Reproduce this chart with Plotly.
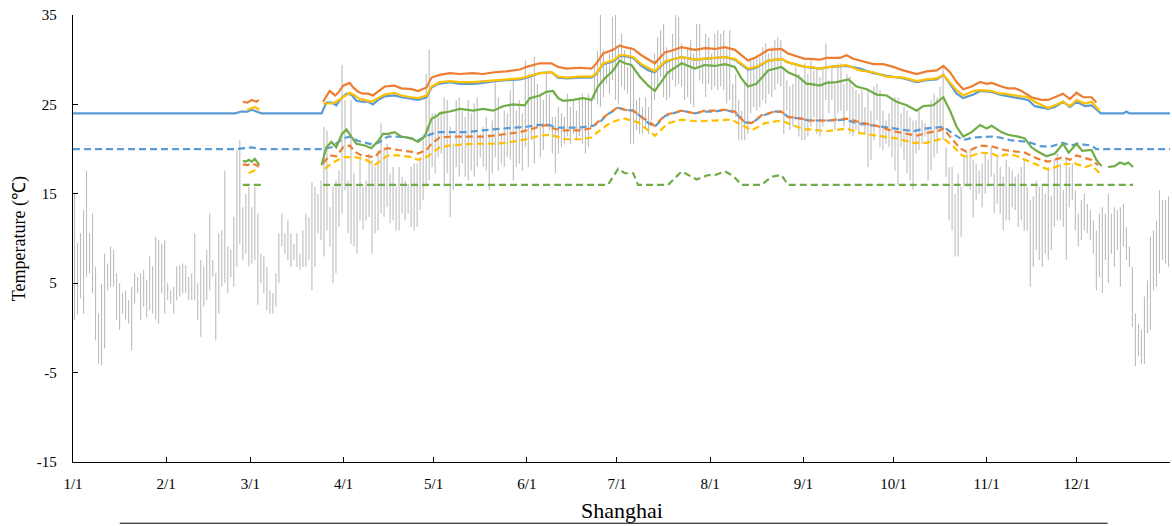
import plotly.graph_objects as go

# ---------------------------------------------------------------------------
# Axis labelling (day-of-year axis, non-leap year)
# ---------------------------------------------------------------------------
MONTH_START_DAYS = [0, 31, 59, 90, 120, 151, 181, 212, 243, 273, 304, 334]
MONTH_LABELS = ["1/1", "2/1", "3/1", "4/1", "5/1", "6/1",
                "7/1", "8/1", "9/1", "10/1", "11/1", "12/1"]
YEAR_END_DAY = 365
Y_TICKS = [-15, -5, 5, 15, 25, 35]

# ---------------------------------------------------------------------------
# Daily outdoor temperature range, Shanghai (deg C), day 0 = 1 Jan
# ---------------------------------------------------------------------------
T_MAX = [
    # Jan 1 - Mar 2
    15.0, 9.5, 10.6, 13.2, 17.6, 10.6, 12.8, 6.8, 1.6, 4.9,
    8.3, 7.2, 9.1, 8.7, 6.1, 5.0, 3.9, 4.2, 3.1, 4.6,
    6.1, 5.7, 6.1, 6.5, 5.4, 8.0, 6.9, 10.2, 9.8, 9.4,
    9.8, 5.0, 4.2, 4.6, 6.9, 7.0, 7.2, 7.0, 5.7, 6.1,
    10.6, 5.0, 7.6, 6.9, 8.7, 12.8, 7.6, 6.1, 10.6, 10.9,
    17.6, 9.1, 8.7, 12.4, 19.9, 21.0, 13.5, 15.0, 15.8, 13.5,
    15.8,
    # days 61 - 122
    12.8, 8.3, 8.0, 6.8, 4.2, 3.9, 6.1, 10.6, 12.8, 10.6,
    12.0, 10.6, 9.4, 10.6, 8.3, 10.9, 12.8, 12.4, 16.3, 15.8,
    15.0, 16.5, 22.5, 22.1, 13.5, 15.8, 16.5, 17.6, 29.4, 25.5,
    16.5, 25.5, 17.3, 15.8, 19.1, 15.8, 16.5, 19.5, 18.8, 18.0,
    19.9, 22.9, 20.2, 20.6, 17.3, 18.0, 15.8, 18.0, 16.9, 16.5,
    16.1, 18.0, 18.4, 18.4, 19.1, 21.7, 28.4, 31.1, 24.0, 24.0,
    23.6, 24.3,
    # days 123 - 184
    25.8, 25.5, 22.5, 20.6, 25.5, 25.8, 24.3, 23.6, 25.5, 24.0,
    25.1, 25.8, 21.7, 22.5, 23.6, 21.7, 23.2, 27.7, 25.8, 21.7,
    24.3, 24.0, 26.6, 27.7, 24.3, 25.5, 24.0, 29.9, 28.4, 28.1,
    30.3, 27.3, 26.2, 25.5, 28.4, 26.2, 23.6, 23.6, 24.7, 24.0,
    23.6, 26.2, 24.7, 25.5, 24.3, 25.8, 26.2, 25.5, 26.2, 25.5,
    29.2, 31.0, 35.0, 31.1, 29.6, 30.7, 34.8, 35.0, 31.4, 32.9,
    31.1, 29.2,
    # days 185 - 245
    31.4, 29.2, 25.5, 25.8, 24.7, 25.8, 24.7, 28.8, 30.7, 32.5,
    33.3, 34.0, 31.4, 29.9, 32.9, 35.0, 34.8, 31.8, 30.3, 31.4,
    32.2, 30.7, 34.0, 34.0, 30.3, 32.9, 32.5, 30.7, 32.9, 33.3,
    32.9, 33.3, 31.1, 33.3, 27.3, 28.4, 25.5, 24.3, 27.3, 29.2,
    29.9, 30.3, 30.3, 30.3, 31.4, 31.8, 30.7, 31.4, 32.2, 32.5,
    32.2, 29.2, 27.7, 27.0, 27.3, 29.2, 28.4, 28.1, 29.6, 28.4,
    29.9,
    # days 246 - 307
    28.8, 29.2, 28.1, 29.2, 31.8, 27.7, 29.2, 27.3, 29.6, 29.6,
    27.3, 28.4, 28.1, 27.0, 26.6, 26.2, 26.6, 24.7, 26.6, 24.3,
    27.0, 27.3, 26.6, 24.3, 23.2, 24.0, 25.5, 25.8, 25.8, 24.0,
    24.7, 24.3, 23.6, 23.2, 23.2, 24.3, 23.2, 22.9, 22.5, 25.5,
    26.2, 25.8, 27.0, 29.4, 20.2, 18.0, 18.0, 15.0, 17.3, 15.8,
    19.1, 19.5, 19.9, 18.8, 18.4, 17.6, 18.4, 19.5, 18.8, 20.2,
    17.3, 19.1,
    # days 308 - 364
    18.0, 16.9, 18.8, 18.0, 17.6, 16.9, 17.3, 18.0, 18.8, 15.8,
    14.3, 14.7, 16.5, 15.8, 15.8, 15.0, 18.0, 14.7, 18.8, 19.5,
    18.4, 15.4, 18.8, 18.0, 18.4, 15.4, 12.8, 14.3, 15.0, 13.9,
    13.2, 12.0, 10.9, 12.8, 13.5, 12.8, 15.0, 12.8, 13.5, 13.2,
    13.5, 13.9, 11.3, 9.1, 6.8, 1.6, 0.5, -0.2, 3.5, 5.3,
    10.2, 10.9, 12.0, 15.4, 14.3, 14.3, 14.7,
]

T_MIN = [
    # Jan 1 - Mar 2
    0.9, 1.5, 3.3, 1.6, 5.7, 6.1, 3.9, -1.4, -4.0, -4.2,
    -2.3, 4.2, 4.6, 4.6, 0.9, -0.2, 1.6, 0.9, 0.5, -2.5,
    2.7, 3.9, 0.9, 2.4, 1.2, 2.0, 1.6, 0.9, 0.5, 3.9,
    1.6, 3.1, 2.7, 1.6, 3.1, 3.5, 3.9, 3.9, 3.1, 3.1,
    3.1, 0.9, -1.0, 2.4, 3.1, 4.2, 5.7, -1.4, 1.6, 4.6,
    5.0, 3.9, 5.7, 4.6, 6.8, 9.4, 7.6, 8.3, 6.9, 7.2,
    7.6,
    # days 61 - 122
    2.6, 5.0, 3.9, 2.0, 1.6, 1.6, 2.4, 5.0, 9.1, 8.3,
    7.6, 6.8, 7.6, 6.8, 6.5, 6.8, 6.8, 7.6, 4.2, 6.8,
    10.6, 9.8, 8.0, 10.9, 9.1, 5.0, 6.1, 11.3, 12.8, 15.4,
    10.6, 9.4, 9.1, 8.3, 12.0, 11.0, 12.0, 12.4, 8.3, 10.6,
    10.9, 12.8, 12.4, 13.5, 11.7, 12.0, 10.9, 10.9, 12.8, 12.0,
    12.8, 11.3, 10.9, 11.3, 13.2, 14.3, 15.8, 16.5, 18.0, 17.3,
    19.1, 19.5,
    # days 123 - 184
    15.8, 17.3, 12.4, 15.4, 18.0, 16.9, 18.4, 16.9, 16.5, 17.6,
    16.9, 18.0, 19.1, 18.0, 17.6, 15.4, 17.3, 19.1, 17.6, 18.4,
    18.0, 19.1, 18.8, 16.5, 18.0, 18.4, 17.6, 20.2, 18.0, 21.0,
    18.4, 22.5, 19.1, 19.9, 22.5, 22.1, 19.5, 17.3, 19.5, 20.2,
    20.6, 21.4, 20.6, 21.7, 21.0, 21.4, 20.6, 19.5, 20.2, 22.5,
    25.5, 25.0, 24.7, 25.8, 27.3, 26.2, 27.7, 25.5, 25.1, 27.0,
    26.6, 26.2,
    # days 185 - 245
    20.6, 20.6, 22.1, 21.7, 21.7, 22.5, 21.7, 23.2, 25.5, 27.0,
    28.1, 25.8, 25.5, 25.8, 27.7, 27.0, 27.3, 27.0, 25.5, 25.8,
    25.1, 24.7, 29.2, 27.7, 27.3, 25.8, 27.3, 26.6, 27.0, 26.6,
    27.0, 26.6, 25.1, 25.5, 24.0, 23.6, 21.0, 21.0, 21.0, 21.7,
    24.0, 24.7, 24.3, 24.7, 25.5, 25.1, 26.2, 25.8, 26.6, 27.3,
    27.0, 21.7, 24.3, 22.1, 22.5, 23.2, 21.4, 21.0, 21.0, 21.4,
    22.5,
    # days 246 - 307
    23.6, 21.7, 21.4, 22.5, 25.5, 24.0, 25.5, 22.1, 24.0, 24.3,
    22.5, 24.3, 21.7, 21.4, 22.1, 21.7, 22.5, 21.7, 18.0, 18.8,
    21.0, 23.2, 20.2, 19.9, 20.6, 20.2, 19.1, 17.6, 16.1, 20.2,
    18.8, 17.3, 16.5, 15.4, 19.5, 19.9, 20.6, 21.4, 16.5, 17.6,
    19.1, 19.5, 22.1, 21.0, 16.9, 12.0, 10.9, 8.0, 8.0, 10.2,
    15.8, 15.8, 15.4, 12.4, 14.3, 15.0, 13.5, 15.0, 15.8, 16.9,
    12.8, 13.9,
    # days 308 - 364
    12.8, 10.9, 12.0, 12.0, 13.5, 13.2, 11.3, 12.0, 10.9, 10.9,
    4.6, 6.8, 8.7, 7.6, 6.8, 8.3, 7.6, 8.7, 11.3, 12.0,
    12.0, 11.3, 7.6, 13.5, 14.3, 10.9, 9.1, 9.8, 10.9, 10.6,
    9.8, 8.3, 4.2, 5.7, 3.9, 7.6, 5.0, 8.3, 6.8, 8.7,
    4.6, 9.1, 7.6, 6.8, 0.1, -4.3, -3.2, -4.0, -4.0, -0.6,
    -0.2, 4.2, 4.6, 6.1, 7.6, 7.2, 6.8,
]

# ---------------------------------------------------------------------------
# Comfort-temperature curves (day-of-year, deg C); None breaks a curve
# ---------------------------------------------------------------------------
UPPER_ORANGE_DAY = [
    56.5, 58.0, 59.5, 61.0, 61.8, None,
    83.2, 85.4, 87.2, 88.2, 89.9, 92.1, 93.2, 94.9, 96.5, 98.2, 99.8, 102.1,
    103.7, 107.0, 109.3, 112.6, 114.8, 117.6, 119.3, 122.0, 125.4, 128.7,
    133.1, 136.4, 140.3, 144.2, 148.7, 150.9, 155.3, 159.2, 161.4, 164.2,
    168.6, 172.5, 174.2, 176.4, 179.7, 181.9, 183.6, 186.4, 189.1, 193.6,
    196.9, 199.1, 202.5, 206.9, 210.2, 213.6, 216.9, 220.2, 224.6, 227.4,
    231.3, 235.7, 237.9, 243.5, 245.2, 248.5, 250.7, 255.2, 257.4, 259.6,
    262.9, 266.3, 269.6, 272.9, 276.3, 280.7, 284.0, 287.4, 289.6, 291.8,
    294.0, 296.2, 299.0, 301.8, 304.0, 305.7, 308.9, 311.1, 313.4, 315.6,
    318.9, 322.2, 324.5, 326.7, 329.4, 331.7, 333.9, 336.1, 338.9, 340.5,
]
UPPER_ORANGE_VAL = [
    25.3, 25.2, 25.5, 25.3, 25.5, None,
    25.3, 26.5, 26.0, 26.3, 27.1, 27.4, 26.9, 26.4, 26.2, 26.2, 26.0, 26.6,
    27.0, 27.1, 26.8, 26.7, 26.5, 26.9, 28.0, 28.3, 28.5, 28.4,
    28.5, 28.4, 28.6, 28.7, 28.9, 29.2, 29.6, 29.6, 29.2, 29.0,
    29.1, 29.0, 29.6, 30.7, 31.1, 31.6, 31.4, 31.2, 30.5, 29.6,
    30.8, 31.0, 31.4, 31.1, 31.3, 31.2, 31.4, 31.1, 29.9, 30.3,
    31.1, 31.2, 30.7, 30.1, 30.1, 30.0, 30.2, 30.2, 30.5, 30.1,
    29.8, 29.5, 29.5, 29.2, 28.8, 28.4, 28.7, 28.8, 29.3, 28.6,
    27.5, 26.7, 27.0, 27.5, 27.3, 27.4, 27.0, 26.8, 26.8, 26.5,
    25.8, 25.5, 25.5, 25.8, 26.2, 25.6, 26.3, 25.8, 25.8, 25.2,
]

UPPER_YELLOW_DAY = [
    58.0, 59.5, 60.5, 62.0, None,
    83.2, 86.0, 87.6, 89.9, 92.1, 93.8, 95.4, 97.1, 99.3, 101.5, 103.7,
    107.0, 109.3, 112.6, 114.8, 117.6, 119.3, 121.5, 122.0, 125.4, 128.7,
    133.1, 136.4, 140.3, 144.2, 148.7, 150.9, 155.3, 159.2, 161.4, 164.2,
    168.6, 172.5, 174.2, 176.4, 179.7, 181.9, 183.6, 186.4, 189.1, 193.6,
    196.9, 199.1, 202.5, 206.9, 210.2, 213.6, 216.9, 220.2, 224.6, 227.4,
    231.3, 235.7, 237.9, 243.5, 245.2, 248.5, 251.9, 257.4, 261.8, 266.3,
    270.7, 276.3, 280.7, 284.0, 287.4, 289.6, 291.8, 294.0, 296.2, 299.6,
    301.8, 305.7, 308.4, 310.0, 313.4, 317.8, 320.0, 324.5, 326.7, 329.4,
    331.7, 333.9, 336.7, 338.9, 341.6,
]
UPPER_YELLOW_VAL = [
    24.4, 24.6, 24.7, 24.4, None,
    25.1, 25.1, 25.3, 25.8, 26.3, 26.0, 25.6, 25.5, 25.3, 25.7, 26.1,
    26.3, 26.0, 25.8, 25.7, 26.0, 27.0, 27.4, 27.5, 27.6, 27.5,
    27.5, 27.6, 27.7, 27.8, 27.9, 28.1, 28.5, 28.6, 28.1, 28.0,
    28.1, 28.1, 28.5, 29.6, 29.9, 30.5, 30.5, 30.3, 29.5, 28.7,
    29.8, 30.0, 30.3, 30.0, 30.1, 30.2, 30.3, 30.1, 29.0, 29.2,
    29.9, 30.1, 29.7, 29.2, 29.2, 29.0, 29.2, 29.4, 28.8, 28.6,
    28.1, 28.0, 27.6, 27.8, 27.9, 28.3, 27.5, 26.6, 26.0, 26.5,
    26.6, 26.5, 26.2, 26.2, 26.0, 25.8, 25.3, 24.6, 24.9, 25.3,
    24.8, 25.5, 25.1, 25.3, 24.3,
]

UPPER_BLUE_DAY = [
    0.0, 54.0, 56.0, 58.0, 59.5, 60.5, 62.7, 82.7, 84.3, 86.0, 87.6, 89.3,
    91.0, 92.6, 94.3, 96.0, 98.2, 99.8, 101.5, 103.7, 107.0, 109.3, 112.6,
    114.8, 117.6, 119.3, 121.5, 125.4, 128.7, 133.1, 136.4, 140.3, 144.2,
    148.7, 150.9, 155.3, 159.2, 161.4, 164.2, 168.6, 172.5, 174.2, 176.4,
    179.7, 181.9, 183.6, 186.4, 189.1, 191.5, 193.6, 196.9, 199.1, 202.5,
    206.9, 210.2, 213.6, 216.9, 220.2, 224.6, 227.4, 231.3, 235.7, 237.9,
    243.5, 248.5, 251.9, 257.4, 261.8, 266.3, 270.7, 276.3, 280.7, 284.0,
    287.4, 289.6, 291.8, 294.0, 296.2, 299.6, 301.8, 305.7, 308.4, 310.0,
    313.4, 317.8, 320.0, 324.5, 326.7, 329.4, 331.7, 333.9, 336.7, 338.9,
    342.0, 349.5, 350.5, 351.5, 365.0,
]
UPPER_BLUE_VAL = [
    24.0, 24.0, 24.2, 24.2, 24.4, 24.3, 24.0, 24.0, 25.2, 25.2, 24.9, 25.7,
    26.2, 26.1, 25.4, 25.3, 25.3, 25.0, 25.5, 25.9, 26.0, 25.8, 25.6,
    25.5, 25.8, 26.9, 27.3, 27.5, 27.3, 27.3, 27.4, 27.6, 27.7,
    27.8, 28.0, 28.5, 28.6, 28.0, 27.9, 28.0, 28.0, 28.4, 29.5,
    29.8, 30.4, 30.4, 30.2, 29.3, 28.8, 28.6, 29.7, 30.0, 30.3,
    30.0, 30.1, 30.2, 30.3, 30.0, 28.9, 29.1, 29.9, 30.1, 29.7,
    29.2, 29.0, 29.2, 29.3, 29.0, 28.5, 28.2, 27.9, 27.5, 27.7,
    27.8, 28.3, 27.3, 26.2, 25.7, 26.1, 26.5, 26.4, 26.1, 26.0,
    25.8, 25.5, 24.8, 24.5, 24.7, 25.3, 24.7, 25.3, 24.8, 24.9,
    24.0, 24.0, 24.2, 24.0, 24.0,
]

UPPER_GREEN_DAY = [
    56.5, 57.5, 58.5, 59.5, 60.5, 61.3, 62.0, None,
    82.7, 84.3, 86.0, 87.6, 89.5, 91.0, 92.6, 94.3, 97.1, 99.3, 101.5,
    103.2, 104.8, 107.0, 109.3, 112.6, 114.8, 117.0, 119.3, 121.5, 122.0,
    125.4, 128.7, 133.1, 136.4, 139.8, 143.1, 146.4, 150.3, 152.0, 155.3,
    157.5, 159.7, 161.4, 163.1, 166.4, 169.7, 172.5, 174.7, 176.9, 179.7,
    181.9, 183.6, 185.8, 188.6, 191.4, 193.6, 195.8, 198.0, 202.5, 206.9,
    210.2, 213.6, 216.9, 220.2, 222.4, 224.6, 227.4, 231.3, 235.7, 237.9,
    241.3, 244.1, 245.2, 248.5, 250.7, 254.1, 258.0, 260.7, 264.1, 267.4,
    270.7, 274.0, 277.4, 280.7, 282.9, 286.2, 289.6, 291.8, 294.0, 296.2,
    299.0, 301.8, 304.0, 305.7, 308.9, 311.1, 314.5, 316.7, 318.9, 321.1,
    323.9, 326.7, 329.4, 331.3, 333.9, 335.8, 338.9, 340.5, 342.2, None,
    344.4, 346.6, 348.3, 350.0, 351.1, 352.7,
]
UPPER_GREEN_VAL = [
    18.7, 18.6, 18.8, 18.6, 18.9, 18.5, 18.2, None,
    18.2, 20.2, 20.8, 20.2, 21.7, 22.2, 21.4, 20.6, 20.4, 20.1, 20.9,
    21.7, 21.7, 21.9, 21.4, 21.2, 20.8, 21.4, 23.4, 23.8, 24.0,
    24.2, 24.5, 24.3, 24.5, 24.3, 24.8, 25.0, 24.9, 25.7, 26.0,
    26.4, 26.5, 25.7, 25.4, 25.5, 25.7, 25.5, 27.0, 27.9, 28.8,
    29.9, 29.6, 29.4, 28.1, 27.1, 26.5, 27.5, 28.6, 29.6, 29.0,
    29.4, 29.3, 29.5, 29.2, 27.9, 27.0, 27.3, 28.8, 29.2, 28.6,
    28.1, 27.3, 27.3, 27.1, 27.4, 27.5, 27.8, 27.0, 26.7, 26.1,
    26.0, 25.3, 24.9, 24.3, 24.8, 24.9, 25.8, 24.3, 22.5, 21.4,
    21.9, 22.7, 22.3, 22.6, 21.9, 21.6, 21.4, 21.2, 20.2, 19.7,
    19.2, 19.5, 20.6, 19.6, 20.6, 19.8, 19.9, 18.8, 18.1, None,
    18.0, 18.1, 18.5, 18.3, 18.5, 18.0,
]

LOWER_BLUE_DAY = [
    0.0, 54.0, 57.0, 59.5, 61.0, 62.5, 83.2, 86.0, 89.9, 92.1, 94.9, 98.2,
    99.8, 102.1, 104.8, 108.2, 112.6, 114.8, 117.6, 119.3, 122.0, 126.5,
    130.9, 136.4, 142.0, 146.4, 150.9, 155.3, 158.6, 160.3, 164.2, 168.6,
    173.0, 175.3, 177.5, 181.4, 183.6, 186.4, 189.1, 191.5, 193.6, 196.9,
    202.5, 206.9, 210.2, 213.6, 216.9, 220.2, 223.5, 225.8, 229.1, 233.5,
    235.7, 237.9, 242.4, 244.6, 246.8, 249.0, 252.0, 257.4, 259.6, 263.0,
    267.4, 274.0, 279.6, 283.5, 289.6, 292.9, 296.2, 299.5, 302.9, 305.7,
    308.4, 311.7, 317.8, 322.2, 325.5, 329.4, 331.9, 334.4, 338.9, 340.5,
    365.0,
]
LOWER_BLUE_VAL = [
    20.0, 20.0, 20.1, 20.2, 20.1, 20.0, 20.0, 20.2, 21.2, 21.4, 20.9, 20.6,
    20.5, 20.8, 21.4, 21.4, 21.2, 21.0, 21.4, 21.7, 21.9, 21.9,
    21.9, 22.1, 22.3, 22.4, 22.5, 22.7, 22.7, 22.4, 22.4, 22.4,
    22.6, 23.0, 23.8, 24.6, 24.4, 24.3, 23.6, 22.9, 22.5, 23.7,
    24.3, 24.0, 24.2, 24.2, 24.4, 24.1, 23.0, 22.9, 23.7, 24.2,
    24.2, 23.6, 23.4, 23.2, 23.2, 23.2, 23.2, 23.3, 23.0, 22.8,
    22.6, 22.3, 22.0, 22.3, 22.5, 21.7, 21.0, 21.3, 21.4, 21.4,
    21.3, 21.0, 20.8, 20.3, 20.3, 20.7, 20.4, 20.6, 20.4, 20.0,
    20.0,
]

LOWER_ORANGE_DAY = [
    56.5, 58.0, 59.5, 61.0, 61.8, None,
    83.2, 85.4, 87.6, 89.9, 92.1, 93.8, 96.0, 99.3, 100.4, 102.6, 104.8,
    108.2, 112.6, 114.8, 117.6, 119.3, 122.0, 126.5, 130.9, 136.4, 139.8,
    144.2, 148.7, 153.1, 157.5, 159.7, 163.1, 168.6, 172.0, 174.2, 177.5,
    181.4, 183.6, 186.4, 189.1, 193.6, 196.9, 202.5, 206.9, 210.2, 213.6,
    216.9, 220.2, 223.5, 225.8, 229.1, 233.5, 235.7, 237.9, 242.4, 244.6,
    246.8, 250.7, 257.4, 261.8, 267.4, 272.9, 280.7, 284.0, 288.5, 289.6,
    291.8, 295.1, 297.3, 301.8, 305.7, 308.4, 310.0, 316.7, 321.1, 324.5,
    329.4, 331.7, 333.9, 336.7, 338.9, 341.1,
]
LOWER_ORANGE_VAL = [
    18.3, 18.2, 18.4, 18.2, 18.0, None,
    18.4, 19.3, 19.2, 20.2, 20.4, 19.7, 19.3, 19.2, 19.1, 19.9, 20.1,
    19.9, 19.7, 19.5, 19.9, 20.6, 21.3, 21.4, 21.4, 21.4, 21.5,
    21.7, 21.9, 22.3, 22.7, 22.3, 22.1, 22.1, 22.3, 22.9, 23.8,
    24.7, 24.4, 24.3, 23.6, 22.6, 23.8, 24.3, 24.0, 24.3, 24.3,
    24.4, 24.2, 23.0, 22.9, 23.8, 24.2, 24.2, 23.6, 23.4, 23.2,
    23.2, 23.2, 23.4, 23.0, 22.6, 22.0, 21.5, 21.8, 22.1, 22.3,
    21.4, 20.1, 19.7, 20.4, 20.3, 20.1, 19.9, 19.6, 18.9, 18.6,
    19.1, 18.8, 19.3, 19.0, 18.8, 18.2,
]

LOWER_YELLOW_DAY = [
    58.5, 59.5, 60.5, 61.5, None,
    83.8, 86.0, 88.2, 90.4, 93.8, 97.1, 100.4, 102.6, 104.8, 108.2, 112.6,
    114.8, 117.6, 119.3, 122.0, 125.4, 128.7, 133.1, 139.8, 144.2, 150.9,
    155.3, 158.6, 160.9, 164.2, 168.6, 172.5, 175.3, 178.6, 182.5, 183.6,
    188.0, 193.6, 198.0, 202.5, 208.0, 213.6, 219.1, 222.4, 225.8, 230.2,
    235.7, 239.1, 243.5, 245.2, 250.7, 257.4, 261.8, 267.4, 274.0, 279.6,
    284.0, 289.6, 292.9, 295.7, 297.9, 301.8, 305.7, 308.4, 310.0, 313.4,
    316.7, 321.1, 324.5, 329.4, 333.3, 336.7, 338.9, 341.6,
]
LOWER_YELLOW_VAL = [
    17.3, 17.5, 17.6, 17.4, None,
    17.8, 18.4, 18.8, 19.1, 19.1, 18.9, 18.2, 18.8, 19.3, 19.3, 19.1,
    18.8, 19.1, 19.5, 20.2, 20.4, 20.5, 20.6, 20.6, 20.7, 21.1,
    21.5, 21.6, 21.4, 21.1, 21.1, 21.3, 22.1, 22.9, 23.4, 23.4,
    23.0, 21.5, 22.9, 23.3, 23.1, 23.2, 23.3, 22.7, 22.1, 22.9,
    23.2, 22.7, 22.2, 22.2, 22.0, 22.3, 21.8, 21.5, 21.2, 20.7,
    20.7, 21.2, 20.3, 19.3, 19.1, 19.6, 19.5, 19.1, 19.4, 19.3,
    18.8, 18.2, 17.7, 18.3, 18.4, 18.0, 18.2, 17.3,
]

LOWER_GREEN_DAY = [
    56.5, 62.5, None,
    83.2, 178.0, 181.4, 183.6, 186.4, 188.0, 198.0, 202.5, 207.5, 211.3,
    213.6, 216.9, 219.7, 222.4, 229.1, 232.4, 235.7, 237.9, 352.7,
]
LOWER_GREEN_VAL = [
    16.0, 16.0, None,
    16.0, 16.0, 17.8, 17.3, 17.3, 16.0, 16.0, 17.5, 16.6, 17.1,
    17.1, 17.5, 17.0, 16.0, 16.0, 16.9, 17.1, 16.0, 16.0,
]

assert len(T_MAX) == YEAR_END_DAY and len(T_MIN) == YEAR_END_DAY

# ---------------------------------------------------------------------------
# Styling
# ---------------------------------------------------------------------------
ORANGE = "#ED7D31"
YELLOW = "#FFC000"
BLUE = "#5B9BD5"
GREEN = "#70AD47"
RANGE_GREY = "#BDBDBD"
SERIF = "Liberation Serif, Times New Roman, serif"
LINE_W = 2.2
DASH = "7px,4px"

fig = go.Figure()

# daily min-max range as vertical strokes, one per day
range_x, range_y = [], []
for day, (hi, lo) in enumerate(zip(T_MAX, T_MIN)):
    range_x += [day + 0.5, day + 0.5, None]
    range_y += [lo, hi, None]
fig.add_trace(go.Scatter(x=range_x, y=range_y, mode="lines",
                         line=dict(color=RANGE_GREY, width=1.1),
                         hoverinfo="skip", showlegend=False))


def add_curve(days, vals, color, dashed):
    fig.add_trace(go.Scatter(
        x=days, y=vals, mode="lines", connectgaps=False,
        line=dict(color=color, width=LINE_W, dash=DASH if dashed else "solid"),
        showlegend=False))


add_curve(LOWER_BLUE_DAY, LOWER_BLUE_VAL, BLUE, True)
add_curve(UPPER_BLUE_DAY, UPPER_BLUE_VAL, BLUE, False)
add_curve(LOWER_ORANGE_DAY, LOWER_ORANGE_VAL, ORANGE, True)
add_curve(UPPER_ORANGE_DAY, UPPER_ORANGE_VAL, ORANGE, False)
add_curve(LOWER_YELLOW_DAY, LOWER_YELLOW_VAL, YELLOW, True)
add_curve(UPPER_YELLOW_DAY, UPPER_YELLOW_VAL, YELLOW, False)
add_curve(LOWER_GREEN_DAY, LOWER_GREEN_VAL, GREEN, True)
add_curve(UPPER_GREEN_DAY, UPPER_GREEN_VAL, GREEN, False)

axis_common = dict(
    showline=True, linecolor="black", linewidth=1.3, mirror=False,
    ticks="inside", ticklen=5, tickwidth=1.2, tickcolor="black",
    showgrid=False, zeroline=False,
    tickfont=dict(family=SERIF, size=15, color="black"),
)

fig.update_layout(
    width=1172, height=526,
    margin=dict(l=73, r=2, t=15, b=64),
    paper_bgcolor="white", plot_bgcolor="white",
    showlegend=False,
    xaxis=dict(range=[0, YEAR_END_DAY],
               tickvals=MONTH_START_DAYS + [YEAR_END_DAY],
               ticktext=MONTH_LABELS + [""],
               ticklabelstandoff=8,
               **axis_common),
    yaxis=dict(range=[-15, 35], tickvals=Y_TICKS,
               ticktext=[str(v) for v in Y_TICKS],
               ticklabelstandoff=12,
               **axis_common),
    annotations=[
        dict(text="Temperature (℃)", textangle=-90,
             xref="paper", yref="paper", x=-0.0486, y=0.5,
             xanchor="center", yanchor="middle", showarrow=False,
             font=dict(family=SERIF, size=18, color="black")),
        dict(text="Shanghai", xref="paper", yref="paper", x=0.5, y=-0.108,
             xanchor="center", yanchor="middle", showarrow=False,
             font=dict(family=SERIF, size=22, color="black")),
    ],
    shapes=[
        dict(type="line", xref="paper", yref="paper",
             x0=0.0426, x1=0.9432, y0=-0.137, y1=-0.137,
             line=dict(color="black", width=1)),
    ],
)

fig.write_html("out.html")
